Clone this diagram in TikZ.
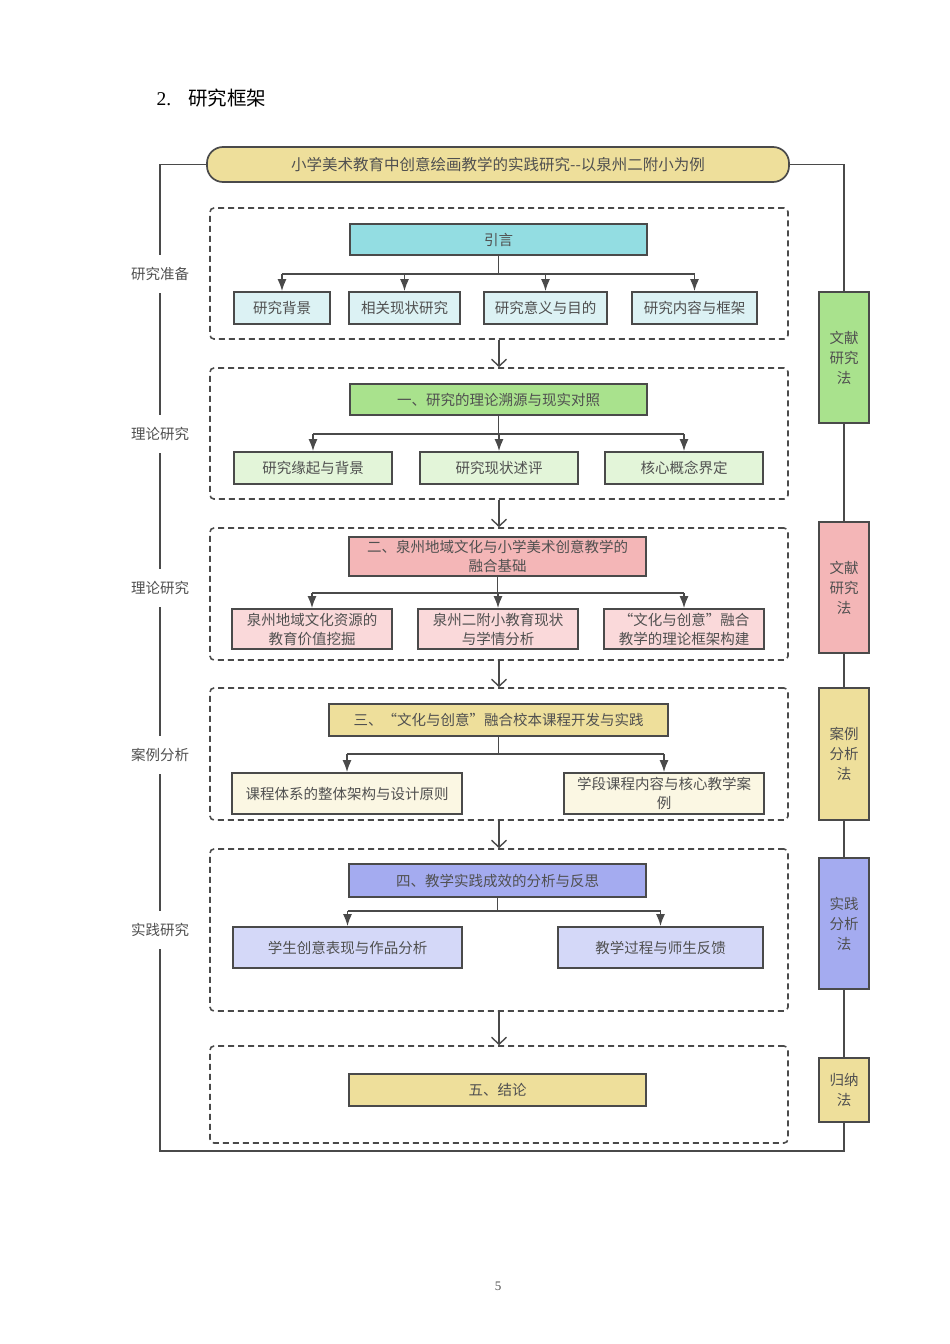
\documentclass[tikz,border=0pt]{standalone}
\usepackage{fontspec}
\setmainfont{Noto Sans CJK SC}
\newfontfamily\serifnum{Liberation Serif}
\usetikzlibrary{arrows.meta}

\definecolor{linegray}{HTML}{4A4A4A}
\definecolor{textgray}{HTML}{505050}
\definecolor{cyanmain}{HTML}{93DDE2}
\definecolor{cyanlite}{HTML}{DCF2F4}
\definecolor{greenmain}{HTML}{A9E28D}
\definecolor{greenlite}{HTML}{E3F5D9}
\definecolor{pinkmain}{HTML}{F4B6B7}
\definecolor{pinklite}{HTML}{FAD9DA}
\definecolor{yellmain}{HTML}{EEDF9B}
\definecolor{yelllite}{HTML}{FBF7E3}
\definecolor{purpmain}{HTML}{A4ABF0}
\definecolor{purplite}{HTML}{D4D8F8}

\tikzset{
  box/.style={draw=linegray, line width=1.7pt, inner sep=0pt, align=center,
    text=textgray, minimum height=32pt, font=\fontsize{14.5}{19}\selectfont},
  sect/.style={draw=linegray, line width=1.6pt, dash pattern=on 6pt off 4pt,
    rounded corners=4pt, minimum width=578pt, inner sep=0pt},
  method/.style={box, minimum width=50pt, font=\fontsize{14.5}{20}\selectfont},
  side/.style={fill=white, text=textgray, inner xsep=2pt, inner ysep=12pt,
    font=\fontsize{14.5}{17}\selectfont},
  link/.style={draw=linegray, line width=1.6pt},
  tip/.style={link, -{Latex[length=12pt,width=9pt]}},
  flow/.style={link, -{Straight Barb[length=7pt,width=15pt,line width=1.4pt]}}
}

\begin{document}
\begin{tikzpicture}[x=1pt,y=-1pt]
\useasboundingbox (0,0) rectangle (950,1344);

\node[anchor=west, text=black, font=\fontsize{19.5}{22}\selectfont] (head) at (153,98) {{\serifnum 2.}\hspace{17pt}研究框架};

\node[box, fill=yellmain, rounded corners=16pt, minimum width=582pt, minimum height=35pt,
  font=\fontsize{15.5}{18}\selectfont] (pill) at (498,164.5) {小学美术教育中创意绘画教学的实践研究-{}-以泉州二附小为例};

% sections
\node[sect, minimum height=131pt] (s1) at (499,273.5) {};
\node[sect, minimum height=131pt] (s2) at (499,433.5) {};
\node[sect, minimum height=132pt] (s3) at (499,594) {};
\node[sect, minimum height=132pt] (s4) at (499,754) {};
\node[sect, minimum height=162pt] (s5) at (499,930) {};
\node[sect, minimum height=97pt] (s6) at (499,1094.5) {};
\draw[flow] (s1.south) -- (s2.north);
\draw[flow] (s2.south) -- (s3.north);
\draw[flow] (s3.south) -- (s4.north);
\draw[flow] (s4.south) -- (s5.north);
\draw[flow] (s5.south) -- (s6.north);

% 1
\node[box, fill=cyanmain, minimum width=297pt, minimum height=31pt] (m1) at (498.5,239.5) {引言};
\node[box, fill=cyanlite, minimum width=96pt] (c11) at (282,308) {研究背景};
\node[box, fill=cyanlite, minimum width=111pt] (c12) at (404.5,308) {相关现状研究};
\node[box, fill=cyanlite, minimum width=123pt] (c13) at (545.5,308) {研究意义与目的};
\node[box, fill=cyanlite, minimum width=125pt] (c14) at (694.5,308) {研究内容与框架};
\coordinate (b1) at (498.5,274);
\draw[link] (m1) -- (b1);
\draw[link] (c11.north |- b1) -- (c14.north |- b1);
\foreach \c in {c11,c12,c13,c14}
  \draw[tip] (\c.north |- b1) -- (\c.north);

% 2
\node[box, fill=greenmain, minimum width=297pt, minimum height=31pt] (m2) at (498.5,399.5) {一、研究的理论溯源与现实对照};
\node[box, fill=greenlite, minimum width=158pt] (c21) at (313,468) {研究缘起与背景};
\node[box, fill=greenlite, minimum width=158pt] (c22) at (499,468) {研究现状述评};
\node[box, fill=greenlite, minimum width=158pt] (c23) at (684,468) {核心概念界定};
\coordinate (b2) at (498.5,434);
\draw[link] (m2) -- (b2);
\draw[link] (c21.north |- b2) -- (c23.north |- b2);
\foreach \c in {c21,c22,c23}
  \draw[tip] (\c.north |- b2) -- (\c.north);

% 3
\node[box, fill=pinkmain, minimum width=297pt, minimum height=39pt] (m3) at (497.5,556.5) {二、泉州地域文化与小学美术创意教学的\\融合基础};
\node[box, fill=pinklite, minimum width=160pt, minimum height=40pt] (c31) at (312,629) {泉州地域文化资源的\\教育价值挖掘};
\node[box, fill=pinklite, minimum width=160pt, minimum height=40pt] (c32) at (498,629) {泉州二附小教育现状\\与学情分析};
\node[box, fill=pinklite, minimum width=160pt, minimum height=40pt] (c33) at (684,629) {“文化与创意”融合\\教学的理论框架构建};
\coordinate (b3) at (497.5,593);
\draw[link] (m3) -- (b3);
\draw[link] (c31.north |- b3) -- (c33.north |- b3);
\foreach \c in {c31,c32,c33}
  \draw[tip] (\c.north |- b3) -- (\c.north);

% 4
\node[box, fill=yellmain, minimum width=339pt] (m4) at (498.5,720) {三、“文化与创意”融合校本课程开发与实践};
\node[box, fill=yelllite, minimum width=230pt, minimum height=41pt] (c41) at (347,793.5) {课程体系的整体架构与设计原则};
\node[box, fill=yelllite, minimum width=200pt, minimum height=41pt] (c42) at (664,793.5) {学段课程内容与核心教学案\\例};
\coordinate (b4) at (498.5,754);
\draw[link] (m4) -- (b4);
\draw[link] (c41.north |- b4) -- (c42.north |- b4);
\foreach \c in {c41,c42}
  \draw[tip] (\c.north |- b4) -- (\c.north);

% 5
\node[box, fill=purpmain, minimum width=297pt, minimum height=33pt] (m5) at (497.5,880.5) {四、教学实践成效的分析与反思};
\node[box, fill=purplite, minimum width=229pt, minimum height=41pt] (c51) at (347.5,947.5) {学生创意表现与作品分析};
\node[box, fill=purplite, minimum width=205pt, minimum height=41pt] (c52) at (660.5,947.5) {教学过程与师生反馈};
\coordinate (b5) at (497.5,911);
\draw[link] (m5) -- (b5);
\draw[link] (c51.north |- b5) -- (c52.north |- b5);
\foreach \c in {c51,c52}
  \draw[tip] (\c.north |- b5) -- (\c.north);

% 6
\node[box, fill=yellmain, minimum width=297pt] (m6) at (497.5,1090) {五、结论};

% methods
\node[method, fill=greenmain, minimum height=131pt] (r1) at (844,357.5) {文献\\研究\\法};
\node[method, fill=pinkmain, minimum height=131pt] (r2) at (844,587.5) {文献\\研究\\法};
\node[method, fill=yellmain, minimum height=132pt] (r3) at (844,754) {案例\\分析\\法};
\node[method, fill=purpmain, minimum height=131pt] (r4) at (844,923.5) {实践\\分析\\法};
\node[method, fill=yellmain, minimum height=64pt] (r5) at (844,1090) {归纳\\法};
\coordinate (br) at (844,1151);
\coordinate (bl) at (160,1151);
\draw[link] (pill.east) -| (r1.north);
\draw[link] (r1) -- (r2);
\draw[link] (r2) -- (r3);
\draw[link] (r3) -- (r4);
\draw[link] (r4) -- (r5);
\draw[link] (r5.south) -- (br) -- (bl) |- (pill.west);

% stages
\node[side] (l1) at (160,274) {研究准备};
\node[side] (l2) at (160,434) {理论研究};
\node[side] (l3) at (160,588) {理论研究};
\node[side] (l4) at (160,755) {案例分析};
\node[side] (l5) at (160,930) {实践研究};

\node[text=textgray, font=\serifnum\fontsize{13}{15}\selectfont] (page) at (498,1286) {5};
\end{tikzpicture}
\end{document}
